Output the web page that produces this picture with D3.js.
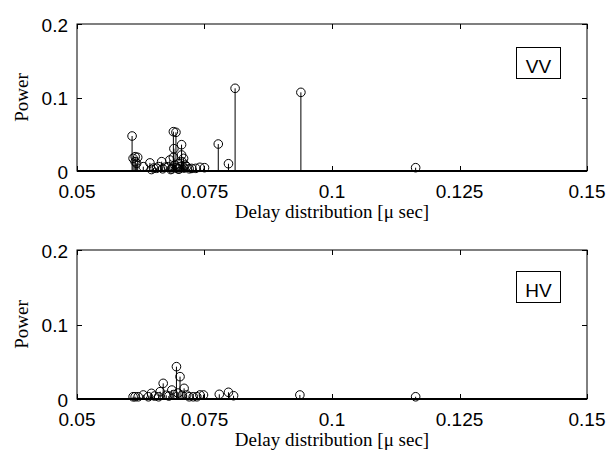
<!DOCTYPE html>
<html>
<head>
<meta charset="utf-8">
<script src="https://cdn.jsdelivr.net/npm/d3@7/dist/d3.min.js"></script>
<style>
  html, body { margin: 0; padding: 0; background: #fff; }
  svg { display: block; }
</style>
</head>
<body>
<svg id="chart" width="613" height="456"></svg>
<script>
// Power delay profiles: [delay (µs), power]
const vvDelay = [0.0608, 0.0610, 0.0614, 0.0619, 0.0614, 0.0617, 0.0630, 0.0643, 0.0650, 0.0656, 0.0660,
                 0.0666, 0.0672, 0.0679, 0.0682, 0.0686, 0.0689, 0.0694, 0.0690, 0.0689, 0.0692, 0.0695,
                 0.0698, 0.0700, 0.0702, 0.0705, 0.0705, 0.0706, 0.0709, 0.0710, 0.0712, 0.0715, 0.0720,
                 0.0725, 0.0733, 0.0741, 0.0750, 0.0777, 0.0797, 0.0810, 0.0939, 0.1164, 0.0646, 0.0668,
                 0.0684, 0.0700];
const vvPower = [0.0476, 0.0172, 0.0195, 0.0186, 0.0127, 0.0104, 0.0059, 0.0110, 0.0040, 0.0037, 0.0060,
                 0.0127, 0.0050, 0.0059, 0.0150, 0.0030, 0.0535, 0.0526, 0.0304, 0.0186, 0.0080, 0.0045,
                 0.0030, 0.0100, 0.0060, 0.0358, 0.0218, 0.0127, 0.0172, 0.0040, 0.0080, 0.0059, 0.0030,
                 0.0035, 0.0036, 0.0050, 0.0045, 0.0367, 0.0099, 0.1125, 0.1070, 0.0045, 0.0020, 0.0030,
                 0.0020, 0.0025];

const hvDelay = [0.0610, 0.0614, 0.0620, 0.0630, 0.0640, 0.0646, 0.0652, 0.0660, 0.0663, 0.0669, 0.0675,
                 0.0680, 0.0686, 0.0690, 0.0695, 0.0698, 0.0702, 0.0706, 0.0710, 0.0715, 0.0720, 0.0728,
                 0.0735, 0.0741, 0.0748, 0.0779, 0.0797, 0.0807, 0.0937, 0.1164];
const hvPower = [0.0030, 0.0030, 0.0030, 0.0054, 0.0030, 0.0076, 0.0040, 0.0030, 0.0098, 0.0210, 0.0050,
                 0.0040, 0.0120, 0.0060, 0.0434, 0.0080, 0.0300, 0.0050, 0.0143, 0.0054, 0.0030, 0.0030,
                 0.0030, 0.0054, 0.0054, 0.0063, 0.0090, 0.0044, 0.0054, 0.0030];

const xTicks = [0.05, 0.075, 0.1, 0.125, 0.15];
const xTickLabels = ["0.05", "0.075", "0.1", "0.125", "0.15"];
const yTicks = [0, 0.1, 0.2];
const yTickLabels = ["0", "0.1", "0.2"];

const xLabel = "Delay distribution [\u03BC sec]";
const yLabel = "Power";

const panels = [
  { name: "VV", delay: vvDelay, power: vvPower, top: 24, bottom: 171, boxTop: 47 },
  { name: "HV", delay: hvDelay, power: hvPower, top: 250, bottom: 399, boxTop: 271 }
];

const svg = d3.select("#chart");
const left = 77, right = 587;
const sans = "'Liberation Sans', Arial, sans-serif";
const serif = "'Liberation Serif', 'Times New Roman', serif";

panels.forEach(p => {
  const x = d3.scaleLinear().domain([0.05, 0.15]).range([left, right]);
  const y = d3.scaleLinear().domain([0, 0.2]).range([p.bottom, p.top]);
  const g = svg.append("g");

  // frame
  g.append("rect")
    .attr("x", left).attr("y", p.top)
    .attr("width", right - left).attr("height", p.bottom - p.top)
    .attr("fill", "none").attr("stroke", "#000").attr("stroke-width", 1);

  // inward ticks on all four sides
  const tl = 5;
  xTicks.forEach(t => {
    const xx = Math.round(x(t)) + 0.5;
    g.append("line").attr("x1", xx).attr("x2", xx).attr("y1", p.bottom).attr("y2", p.bottom - tl).attr("stroke", "#000");
    g.append("line").attr("x1", xx).attr("x2", xx).attr("y1", p.top).attr("y2", p.top + tl).attr("stroke", "#000");
  });
  yTicks.forEach(t => {
    const yy = Math.round(y(t)) + 0.5;
    g.append("line").attr("x1", left).attr("x2", left + tl).attr("y1", yy).attr("y2", yy).attr("stroke", "#000");
    g.append("line").attr("x1", right).attr("x2", right - tl).attr("y1", yy).attr("y2", yy).attr("stroke", "#000");
  });

  // tick labels
  g.selectAll(".xt").data(xTicks).join("text")
    .attr("x", d => x(d)).attr("y", p.bottom + 27)
    .attr("text-anchor", "middle")
    .attr("font-family", sans).attr("font-size", 19)
    .text((d, i) => xTickLabels[i]);
  g.selectAll(".yt").data(yTicks).join("text")
    .attr("x", left - 9).attr("y", d => y(d) + 1)
    .attr("dy", "0.35em")
    .attr("text-anchor", "end")
    .attr("font-family", sans).attr("font-size", 19)
    .text((d, i) => yTickLabels[i]);

  // axis titles
  g.append("text")
    .attr("x", (left + right) / 2).attr("y", p.bottom + 47)
    .attr("text-anchor", "middle")
    .attr("font-family", serif).attr("font-size", 19)
    .text(xLabel);
  g.append("text")
    .attr("transform", `translate(28,${(p.top + p.bottom) / 2}) rotate(-90)`)
    .attr("text-anchor", "middle")
    .attr("font-family", serif).attr("font-size", 19)
    .text(yLabel);

  // stems
  const pts = p.delay.map((d, i) => ({ d, v: p.power[i] }));
  g.selectAll(".stem").data(pts).join("line")
    .attr("x1", d => x(d.d)).attr("x2", d => x(d.d))
    .attr("y1", y(0)).attr("y2", d => y(d.v))
    .attr("stroke", "#000").attr("stroke-width", 1);

  // baseline
  g.append("line")
    .attr("x1", left).attr("x2", right)
    .attr("y1", y(0)).attr("y2", y(0))
    .attr("stroke", "#000").attr("stroke-width", 2);

  // markers
  g.selectAll(".mk").data(pts).join("circle")
    .attr("cx", d => x(d.d)).attr("cy", d => y(d.v))
    .attr("r", 4.3)
    .attr("fill", "none").attr("stroke", "#000").attr("stroke-width", 1);

  // panel tag
  g.append("rect")
    .attr("x", 516.5).attr("y", p.boxTop + 0.5)
    .attr("width", 44).attr("height", 31)
    .attr("fill", "#fff").attr("stroke", "#000").attr("stroke-width", 1);
  g.append("text")
    .attr("x", 538.5).attr("y", p.boxTop + 26)
    .attr("text-anchor", "middle")
    .attr("font-family", sans).attr("font-size", 19)
    .text(p.name);
});
</script>
</body>
</html>
